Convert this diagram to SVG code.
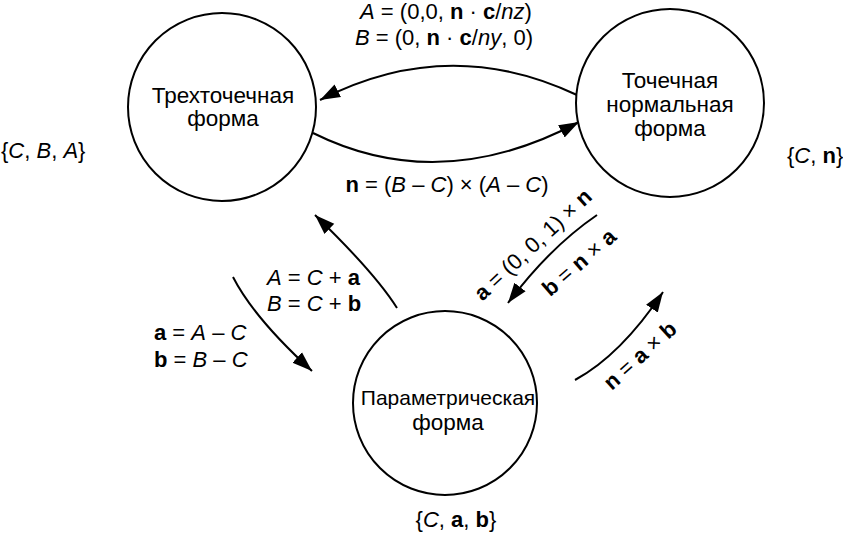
<svg xmlns="http://www.w3.org/2000/svg" width="843" height="556" viewBox="0 0 843 556">
<defs>
<marker id="ah" markerUnits="userSpaceOnUse" markerWidth="22" markerHeight="16" refX="20" refY="8" orient="auto">
<path d="M0,1 L20,8 L0,15 Z" fill="#000"/>
</marker>
<style>
.node circle{fill:#fff;stroke:#000;stroke-width:2}
text{font-family:"Liberation Sans",Arial,sans-serif;font-size:22px;fill:#000}
.n{font-size:22.5px}
.c{text-anchor:middle}
.i{font-style:italic}
.b{font-weight:bold}
#connectors path{fill:none;stroke:#000;stroke-width:2;marker-end:url(#ah)}
</style>
</defs>
<rect width="843" height="556" fill="#fff"/>
<g id="connectors">
<path d="M577,95 Q448,34 320,100"/>
<path d="M313,133 Q440,196 579,122"/>
<path d="M397,308 Q375,273 315,215"/>
<path d="M233,277 Q254,318 312,371"/>
<path d="M597,215 Q550,247 508,303"/>
<path d="M575,380 Q621,355 663,292"/>
</g>
<g id="three-point">
<g class="node"><circle cx="222" cy="107" r="94"/></g>
<text class="c n" x="223" y="103">Трехточечная</text>
<text class="c n" x="223" y="126">форма</text>
</g>
<g id="point-normal">
<g class="node"><circle cx="670" cy="103" r="94"/></g>
<text class="c n" x="670" y="88">Точечная</text>
<text class="c n" x="670" y="112">нормальная</text>
<text class="c n" x="670" y="136">форма</text>
</g>
<g id="parametric">
<g class="node"><circle cx="445" cy="403" r="92"/></g>
<text class="c" x="448" y="405" style="font-size:21px">Параметрическая</text>
<text class="c n" x="448" y="430">форма</text>
</g>
<g id="labels">
<text x="1" y="158">{<tspan class="i">C</tspan>, <tspan class="i">B</tspan>, <tspan class="i">A</tspan>}</text>
<text x="787" y="163">{<tspan class="i">C</tspan>, <tspan class="b">n</tspan>}</text>
<text class="c" x="456" y="527">{<tspan class="i">C</tspan>, <tspan class="b">a</tspan>, <tspan class="b">b</tspan>}</text>
<text class="c" x="446" y="19"><tspan class="i">A</tspan> = (0,0, <tspan class="b">n</tspan> · <tspan class="b">c</tspan>/<tspan class="i">nz</tspan>)</text>
<text class="c" x="444" y="45"><tspan class="i">B</tspan> = (0, <tspan class="b">n</tspan> · <tspan class="b">c</tspan>/<tspan class="i">ny</tspan>, 0)</text>
<text class="c" x="447" y="192"><tspan class="b">n</tspan> = (<tspan class="i">B</tspan> – <tspan class="i">C</tspan>) × (<tspan class="i">A</tspan> – <tspan class="i">C</tspan>)</text>
<text x="267" y="285"><tspan class="i">A</tspan> = <tspan class="i">C</tspan> + <tspan class="b">a</tspan></text>
<text x="267" y="311"><tspan class="i">B</tspan> = <tspan class="i">C</tspan> + <tspan class="b">b</tspan></text>
<text x="154" y="340"><tspan class="b">a</tspan> = <tspan class="i">A</tspan> – <tspan class="i">C</tspan></text>
<text x="154" y="367"><tspan class="b">b</tspan> = <tspan class="i">B</tspan> – <tspan class="i">C</tspan></text>
<text class="c" x="538" y="250" transform="rotate(-43 538 250)"><tspan class="b">a</tspan> = (0, 0, 1) × <tspan class="b">n</tspan></text>
<text class="c" x="584" y="268" transform="rotate(-41 584 268)"><tspan class="b">b</tspan> = <tspan class="b">n</tspan> × <tspan class="b">a</tspan></text>
<text class="c" x="645" y="361" transform="rotate(-42 645 361)"><tspan class="b">n</tspan> = <tspan class="b">a</tspan> × <tspan class="b">b</tspan></text>
</g>
</svg>
